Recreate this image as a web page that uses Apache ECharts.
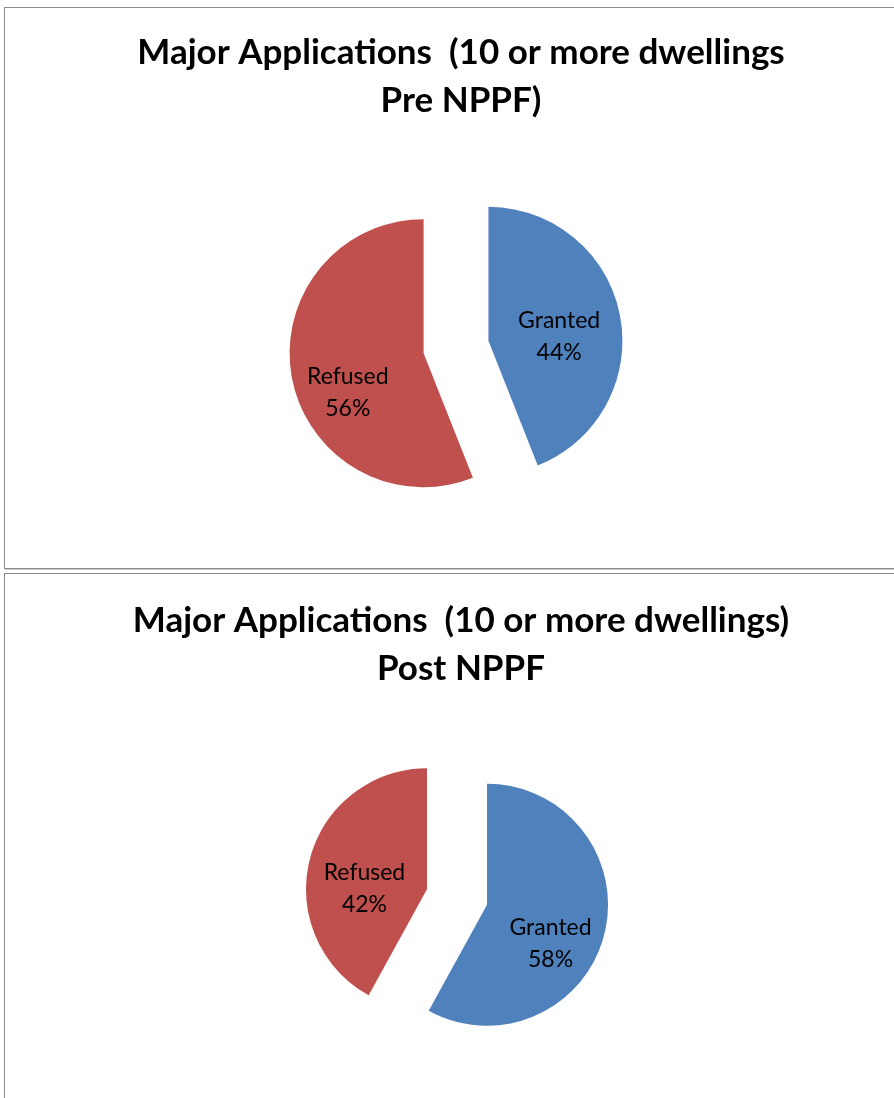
<!DOCTYPE html>
<html><head><meta charset="utf-8">
<script src="https://cdn.jsdelivr.net/npm/echarts@6/dist/echarts.min.js"></script>
<style>
html,body{margin:0;padding:0;background:#fff;width:894px;height:1098px;overflow:hidden;position:relative;}
.box{position:absolute;left:4px;width:900px;border:1px solid #8a8a8a;box-shadow:1px 1px 0 #c8c8c8;box-sizing:border-box;background:#fff;}
#c1{top:7px;height:562px;}
#c2{top:573px;height:540px;}
</style></head><body>
<div id="c1" class="box"></div>
<div id="c2" class="box"></div>
<script>
const categories = ['Granted', 'Refused'];
const preValues = [44, 56];
const postValues = [58, 42];
const titles = ['Major Applications  (10 or more dwellings\nPre NPPF)', 'Major Applications  (10 or more dwellings)\nPost NPPF'];
const colors = ['#4F81BD', '#C0504D'];

function makeOpt(title, values, center, radius, offset, titleTop, labelOffsets) {
  return {
    animation: false,
    title: {
      text: title, left: 451, top: titleTop, textAlign: 'center',
      textStyle: {fontFamily: 'Lato', fontWeight: 'bold', fontSize: 35, lineHeight: 48, color: '#000'}
    },
    series: [{
      type: 'pie', center: center, radius: radius, startAngle: 90, clockwise: true,
      selectedMode: 'multiple', selectedOffset: offset,
      label: {show: true, position: 'inside', formatter: '{b}\n{d}%', fontFamily: 'Lato', fontSize: 23, lineHeight: 32, color: '#000'},
      labelLine: {show: false},
      labelLayout: function (p) { const o = labelOffsets[p.dataIndex]; return {dx: o[0], dy: o[1]}; },
      itemStyle: {borderWidth: 0},
      emphasis: {disabled: true},
      data: categories.map((c, i) => ({name: c, value: values[i], selected: true,
        itemStyle: {color: colors[i]}}))
    }]
  };
}
echarts.init(document.getElementById('c1')).setOption(makeOpt(titles[0], preValues, [451, 339], 134, 33, 16, [[2, 9], [-7, 26]]));
echarts.init(document.getElementById('c2')).setOption(makeOpt(titles[1], postValues, [452, 323], 121, 31, 18, [[2, 23], [-1, 15]]));
</script></body></html>
